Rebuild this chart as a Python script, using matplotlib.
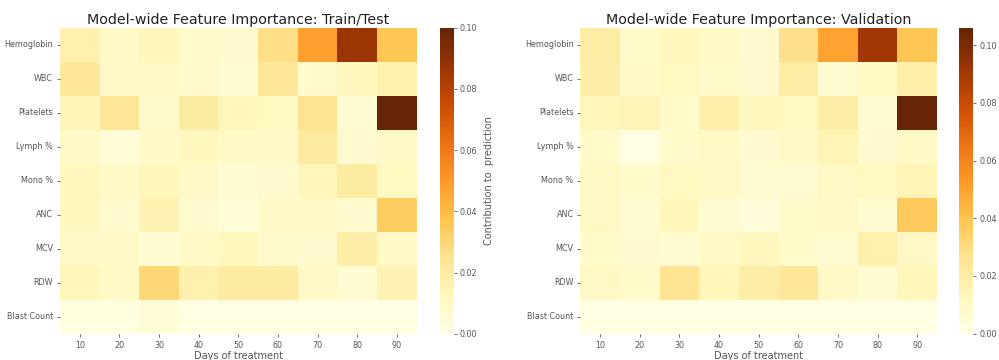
import numpy as np
import matplotlib
matplotlib.use('Agg')
from matplotlib import pyplot as plt
import seaborn as sns

features = ['Hemoglobin', 'WBC', 'Platelets', 'Lymph %', 'Mono %',
            'ANC', 'MCV', 'RDW', 'Blast Count']
days = [10, 20, 30, 40, 50, 60, 70, 80, 90]

# Train/Test importances (rows = features, cols = days)
train_test = np.array([
    [0.017, 0.009, 0.013, 0.008, 0.007, 0.027, 0.048, 0.087, 0.037],
    [0.022, 0.009, 0.010, 0.008, 0.006, 0.022, 0.008, 0.012, 0.016],
    [0.014, 0.023, 0.008, 0.020, 0.013, 0.011, 0.025, 0.006, 0.100],
    [0.009, 0.004, 0.009, 0.012, 0.010, 0.009, 0.021, 0.007, 0.009],
    [0.012, 0.010, 0.013, 0.009, 0.006, 0.007, 0.013, 0.020, 0.011],
    [0.012, 0.007, 0.015, 0.007, 0.004, 0.009, 0.010, 0.007, 0.034],
    [0.009, 0.009, 0.006, 0.010, 0.012, 0.008, 0.007, 0.019, 0.009],
    [0.013, 0.010, 0.030, 0.017, 0.020, 0.020, 0.010, 0.006, 0.015],
    [0.002, 0.002, 0.004, 0.001, 0.001, 0.001, 0.001, 0.001, 0.001],
])

# Validation importances
validation = np.array([
    [0.021, 0.009, 0.013, 0.010, 0.008, 0.028, 0.050, 0.091, 0.039],
    [0.020, 0.010, 0.012, 0.009, 0.008, 0.021, 0.007, 0.012, 0.019],
    [0.014, 0.015, 0.009, 0.019, 0.013, 0.012, 0.020, 0.007, 0.106],
    [0.009, 0.002, 0.009, 0.010, 0.008, 0.010, 0.015, 0.008, 0.010],
    [0.010, 0.009, 0.012, 0.011, 0.007, 0.007, 0.010, 0.012, 0.015],
    [0.011, 0.007, 0.014, 0.006, 0.004, 0.009, 0.010, 0.007, 0.037],
    [0.009, 0.008, 0.007, 0.010, 0.013, 0.009, 0.007, 0.018, 0.011],
    [0.011, 0.009, 0.026, 0.014, 0.020, 0.024, 0.010, 0.007, 0.014],
    [0.002, 0.001, 0.002, 0.001, 0.001, 0.001, 0.001, 0.001, 0.001],
])

tick_col = '#555555'

fig = plt.figure(figsize=(9.99, 3.6), dpi=100)

panels = [
    (train_test, 'Model-wide Feature Importance: Train/Test', 0.060, 0.440, 'Contribution to  prediction'),
    (validation, 'Model-wide Feature Importance: Validation', 0.581, 0.960, ''),
]

for data, title, x0, cx0, cbar_label in panels:
    ax  = fig.add_axes([x0, 0.073, 0.357, 0.850])
    cax = fig.add_axes([cx0, 0.073, 0.014, 0.850])
    sns.heatmap(data, ax=ax, cbar_ax=cax, cmap='YlOrBr', vmin=0,
                xticklabels=days, yticklabels=features)
    ax.set_title(title, fontsize=10.3, color='#222222', pad=3)
    ax.set_xlabel('Days of treatment', fontsize=7, color=tick_col, labelpad=1)
    ax.tick_params(axis='both', labelsize=5.8, colors=tick_col, length=2.5, width=0.6, pad=2.5)
    plt.setp(ax.get_yticklabels(), rotation=0)
    cax.set_yticks([0, 0.02, 0.04, 0.06, 0.08, 0.10])
    cax.set_yticklabels(['0.00', '0.02', '0.04', '0.06', '0.08', '0.10'])
    cax.tick_params(labelsize=5.8, colors=tick_col, length=2.5, width=0.6, pad=2)
    if cbar_label:
        cax.set_ylabel(cbar_label, fontsize=7, color=tick_col, labelpad=5)

plt.savefig('out.png', dpi=100)
